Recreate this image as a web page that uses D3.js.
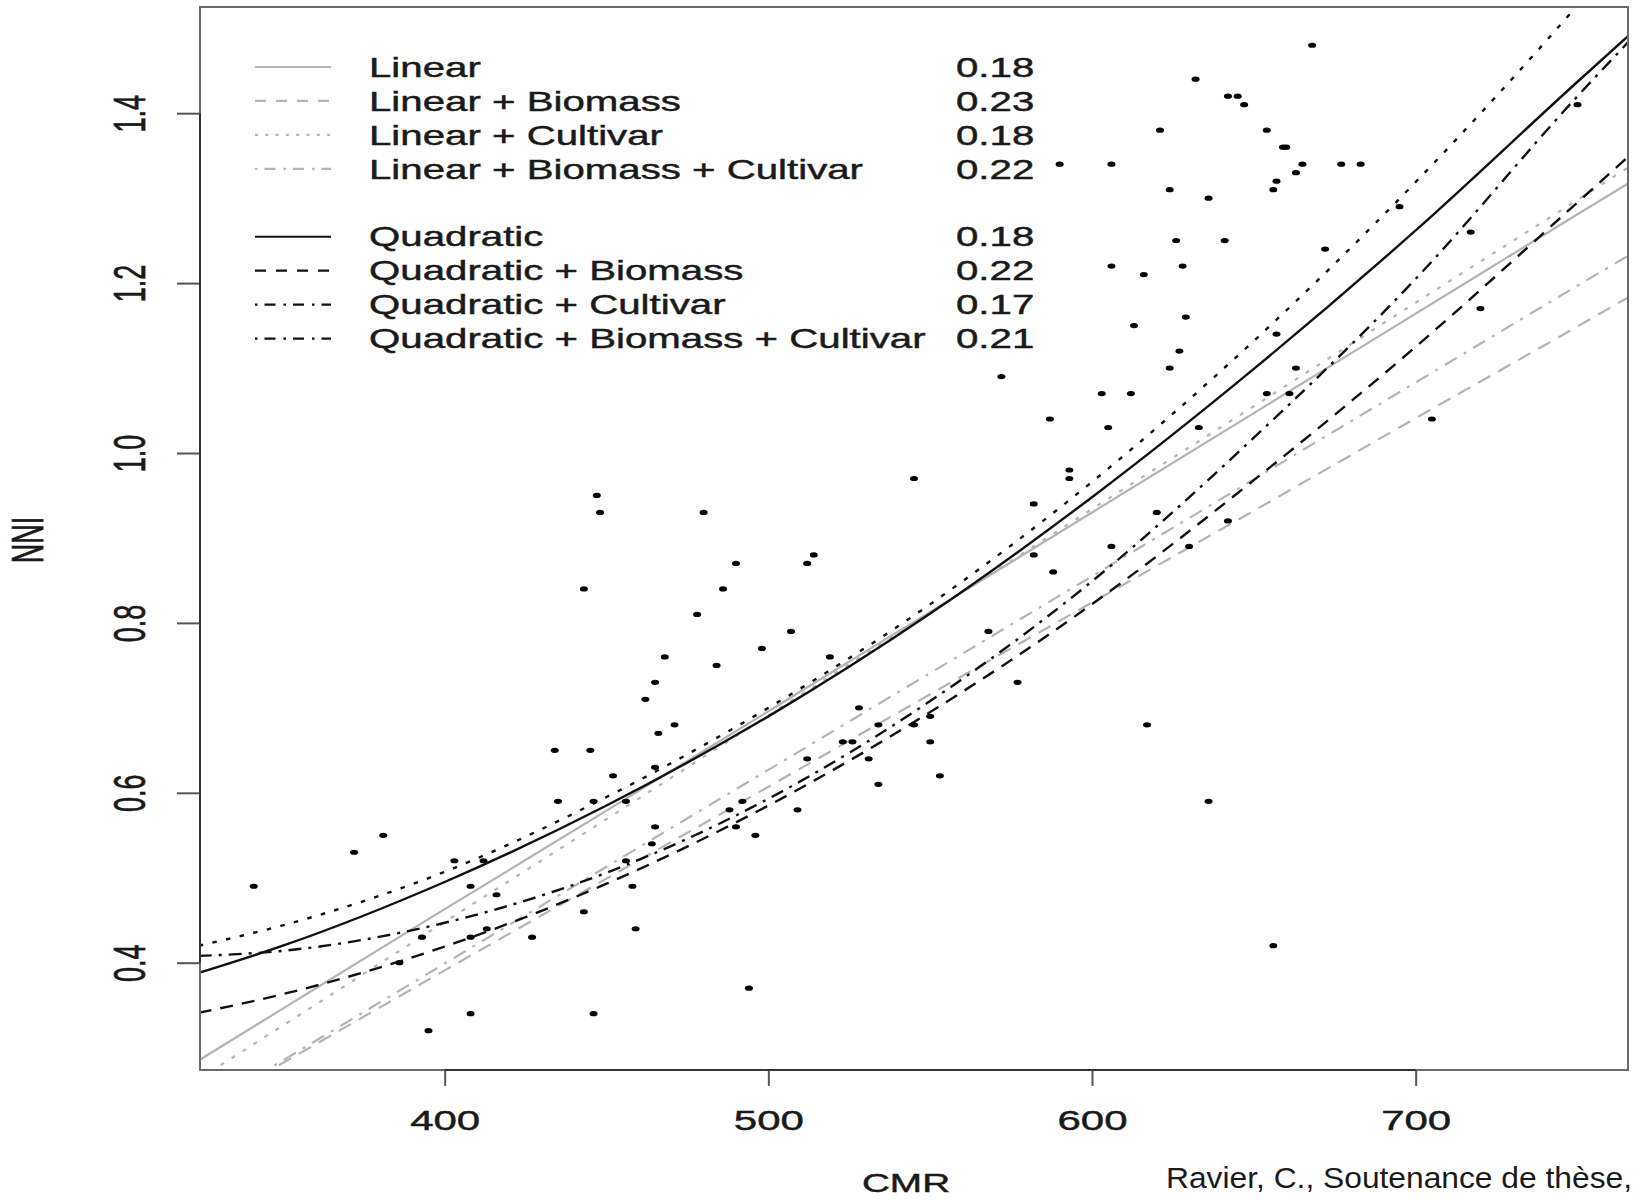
<!DOCTYPE html>
<html>
<head>
<meta charset="utf-8">
<script src="https://cdn.jsdelivr.net/npm/d3@7"></script>
<style>
  body { margin: 0; background: #ffffff; }
  text { font-family: "Liberation Sans", Arial, sans-serif; fill: #1a1a1a; }
</style>
</head>
<body>
<script>
// Observed points (CMR, NNI)
const OBS_CMR = [341, 372, 381, 386, 393, 395, 403, 408, 408, 408, 412, 413, 416, 427, 434, 435, 443, 443, 445, 446,
  446, 447, 448, 452, 456, 456, 458, 459, 462, 464, 465, 465, 465, 466, 468, 471, 478, 480, 484, 486,
  488, 490, 490, 492, 494, 496, 498, 507, 509, 512, 512, 514, 519, 523, 526, 528, 531, 534, 534, 545,
  545, 550, 550, 553, 568, 572, 577, 582, 582, 587, 588, 590, 593, 593, 603, 605, 606, 606, 606, 612,
  613, 616, 617, 620, 621, 624, 624, 626, 627, 628, 629, 630, 632, 633, 636, 636, 641, 642, 642, 645,
  647, 654, 654, 656, 656, 657, 657, 659, 660, 661, 663, 663, 665, 668, 672, 677, 683, 695, 705, 717,
  720, 750];
const OBS_NNI = [0.49, 0.53, 0.55, 0.40, 0.43, 0.32, 0.52, 0.49, 0.43, 0.34, 0.52, 0.44, 0.48, 0.43, 0.65, 0.59, 0.84, 0.46, 0.65, 0.59,
  0.34, 0.95, 0.93, 0.62, 0.59, 0.52, 0.49, 0.44, 0.71, 0.54, 0.73, 0.63, 0.56, 0.67, 0.76, 0.68, 0.81, 0.93, 0.75, 0.84,
  0.58, 0.87, 0.56, 0.59, 0.37, 0.55, 0.77, 0.79, 0.58, 0.87, 0.64, 0.88, 0.76, 0.66, 0.66, 0.70, 0.64, 0.68, 0.61, 0.97,
  0.68, 0.69, 0.66, 0.62, 0.79, 1.09, 0.73, 0.94, 0.88, 1.04, 0.86, 1.34, 0.98, 0.97, 1.07, 1.03, 1.34, 1.22, 0.89, 1.07,
  1.15, 1.21, 0.68, 0.93, 1.38, 1.31, 1.10, 1.25, 1.12, 1.22, 1.16, 0.89, 1.44, 1.03, 1.30, 0.59, 1.25, 1.42, 0.92, 1.42,
  1.41, 1.38, 1.07, 1.31, 0.42, 1.32, 1.14, 1.36, 1.36, 1.07, 1.33, 1.10, 1.34, 1.48, 1.24, 1.34, 1.34, 1.29, 1.04, 1.26,
  1.17, 1.41];

// Fitted curves, read at these CMR values
const CURVE_CMR = [324, 350, 400, 450, 500, 550, 600, 650, 700, 750, 766];
const FIT_LINEAR          = [0.285, 0.346, 0.463, 0.579, 0.696, 0.813, 0.930, 1.047, 1.164, 1.281, 1.318];
const FIT_LINEAR_BIO      = [0.226, 0.282, 0.391, 0.499, 0.607, 0.716, 0.824, 0.932, 1.041, 1.149, 1.184];
const FIT_LINEAR_CULT     = [0.263, 0.326, 0.448, 0.569, 0.691, 0.812, 0.934, 1.055, 1.177, 1.298, 1.337];
const FIT_LINEAR_BIO_CULT = [0.226, 0.285, 0.399, 0.513, 0.627, 0.741, 0.855, 0.969, 1.083, 1.197, 1.233];
const FIT_QUAD            = [0.388, 0.420, 0.495, 0.585, 0.690, 0.811, 0.948, 1.099, 1.262, 1.437, 1.492];
const FIT_QUAD_BIO        = [0.341, 0.363, 0.419, 0.493, 0.585, 0.695, 0.822, 0.968, 1.125, 1.295, 1.350];
const FIT_QUAD_CULT       = [0.420, 0.444, 0.507, 0.595, 0.700, 0.822, 0.966, 1.132, 1.319, 1.527, 1.598];
const FIT_QUAD_BIO_CULT   = [0.408, 0.414, 0.447, 0.506, 0.593, 0.708, 0.849, 1.018, 1.205, 1.420, 1.485];

// Legend
const MODEL_NAMES = ['Linear', 'Linear + Biomass', 'Linear + Cultivar', 'Linear + Biomass + Cultivar',
  'Quadratic', 'Quadratic + Biomass', 'Quadratic + Cultivar', 'Quadratic + Biomass + Cultivar'];
const MODEL_SCORES = ['0.18', '0.23', '0.18', '0.22', '0.18', '0.22', '0.17', '0.21'];

const X_TICKS = [400, 500, 600, 700];
const Y_TICKS = [0.4, 0.6, 0.8, 1.0, 1.2, 1.4];

const WIDTH = 1633;
const HEIGHT = 1200;
const PLOT_LEFT = 200;
const PLOT_RIGHT = 1628;
const PLOT_TOP = 7;
const PLOT_BOTTOM = 1070;

const COLOR_BLACK = '#111111';
const COLOR_GRAY = '#b4b4b4';
const TEXT_STRETCH = 1.49;
const TEXT_HALO = 0.45;

// line styles: [colour, dash in plot, dash in legend]
const STYLES = [
  [COLOR_GRAY, null, null],
  [COLOR_GRAY, '14,9', '11,10'],
  [COLOR_GRAY, '4,9', '3,7.3'],
  [COLOR_GRAY, '14,8,3,8', '2.5,7,11,8'],
  [COLOR_BLACK, null, null],
  [COLOR_BLACK, '13,9', '11,10'],
  [COLOR_BLACK, '4.5,9.5', '2.5,7,11,8'],
  [COLOR_BLACK, '13,7,3,7', '2.5,7,11,8']
];
const FITS = [FIT_LINEAR, FIT_LINEAR_BIO, FIT_LINEAR_CULT, FIT_LINEAR_BIO_CULT,
  FIT_QUAD, FIT_QUAD_BIO, FIT_QUAD_CULT, FIT_QUAD_BIO_CULT];

const x = d3.scaleLinear().domain([324.4, 765.6]).range([PLOT_LEFT, PLOT_RIGHT]);
const y = d3.scaleLinear().domain([0.2737, 1.525]).range([PLOT_BOTTOM, PLOT_TOP]);

const svg = d3.select('body').append('svg')
  .attr('width', WIDTH)
  .attr('height', HEIGHT)
  .attr('xmlns', 'http://www.w3.org/2000/svg');

svg.append('rect').attr('width', WIDTH).attr('height', HEIGHT).attr('fill', '#ffffff');

svg.append('clipPath').attr('id', 'plot-clip')
  .append('rect')
  .attr('x', PLOT_LEFT).attr('y', PLOT_TOP)
  .attr('width', PLOT_RIGHT - PLOT_LEFT).attr('height', PLOT_BOTTOM - PLOT_TOP);

// Curves
const line = d3.line()
  .x(d => x(d[0]))
  .y(d => y(d[1]))
  .curve(d3.curveMonotoneX);

const curves = svg.append('g').attr('clip-path', 'url(#plot-clip)');
FITS.forEach((fit, i) => {
  const pts = CURVE_CMR.map((c, j) => [c, fit[j]]);
  curves.append('path')
    .attr('d', line(pts))
    .attr('fill', 'none')
    .attr('stroke', STYLES[i][0])
    .attr('stroke-width', i < 4 ? 2.2 : 2.4)
    .attr('stroke-dasharray', STYLES[i][1]);
});

// Points
svg.append('g').selectAll('ellipse')
  .data(OBS_CMR.map((c, i) => [c, OBS_NNI[i]]))
  .join('ellipse')
  .attr('cx', d => x(d[0]))
  .attr('cy', d => y(d[1]))
  .attr('rx', 4)
  .attr('ry', 2.6)
  .attr('fill', '#000');

// Box
svg.append('rect')
  .attr('x', PLOT_LEFT).attr('y', PLOT_TOP)
  .attr('width', PLOT_RIGHT - PLOT_LEFT).attr('height', PLOT_BOTTOM - PLOT_TOP)
  .attr('fill', 'none')
  .attr('stroke', '#6a6a6a')
  .attr('stroke-width', 2);

// X axis
const xAxis = svg.append('g')
  .attr('transform', `translate(0,${PLOT_BOTTOM})`)
  .call(d3.axisBottom(x).tickValues(X_TICKS).tickSize(16).tickSizeOuter(0));
xAxis.select('.domain').remove();
xAxis.append('line')
  .attr('x1', x(X_TICKS[0])).attr('x2', x(X_TICKS[X_TICKS.length - 1]))
  .attr('stroke', '#333').attr('stroke-width', 2);
xAxis.selectAll('.tick line').attr('stroke', '#555').attr('stroke-width', 2);
xAxis.selectAll('.tick text')
  .attr('y', null).attr('dy', null)
  .attr('transform', `translate(0,60) scale(1.5,1)`)
  .attr('font-size', 28)
  .attr('font-family', '"Liberation Sans", Arial, sans-serif')
  .attr('fill', '#1a1a1a')
  .attr('stroke', '#1a1a1a')
  .attr('stroke-width', TEXT_HALO);

// Y axis
const yAxis = svg.append('g')
  .attr('transform', `translate(${PLOT_LEFT},0)`)
  .call(d3.axisLeft(y).tickValues(Y_TICKS).tickFormat(d3.format('.1f')).tickSize(23).tickSizeOuter(0));
yAxis.select('.domain').remove();
yAxis.append('line')
  .attr('y1', y(Y_TICKS[0])).attr('y2', y(Y_TICKS[Y_TICKS.length - 1]))
  .attr('stroke', '#333').attr('stroke-width', 2);
yAxis.selectAll('.tick line').attr('stroke', '#555').attr('stroke-width', 2);
yAxis.selectAll('.tick text')
  .attr('x', null).attr('dy', null)
  .attr('text-anchor', 'middle')
  .attr('transform', 'translate(-55,0) scale(1.62,1) rotate(-90)')
  .attr('font-size', 27)
  .attr('font-family', '"Liberation Sans", Arial, sans-serif')
  .attr('fill', '#1a1a1a')
  .attr('stroke', '#1a1a1a')
  .attr('stroke-width', TEXT_HALO);

// Axis titles
svg.append('text')
  .attr('transform', `translate(906,1192) scale(${TEXT_STRETCH},1)`)
  .attr('text-anchor', 'middle')
  .attr('font-size', 26)
  .attr('stroke', '#1a1a1a').attr('stroke-width', TEXT_HALO)
  .text('CMR');

svg.append('text')
  .attr('transform', 'translate(43,540) scale(1.62,1) rotate(-90)')
  .attr('text-anchor', 'middle')
  .attr('font-size', 27)
  .attr('stroke', '#1a1a1a').attr('stroke-width', TEXT_HALO)
  .text('NNI');

// Legend
const LEGEND_ROW = 33.95;
const legend = svg.append('g');
MODEL_NAMES.forEach((name, i) => {
  const row = i < 4 ? i : i + 1;
  const cy = 67 + row * LEGEND_ROW;
  legend.append('line')
    .attr('x1', 255).attr('x2', 331)
    .attr('y1', cy).attr('y2', cy)
    .attr('stroke', STYLES[i][0])
    .attr('stroke-width', 2.2)
    .attr('stroke-dasharray', STYLES[i][2]);
  legend.append('text')
    .attr('transform', `translate(369,${cy + 9.7}) scale(${TEXT_STRETCH},1)`)
    .attr('font-size', 27)
    .attr('stroke', '#1a1a1a').attr('stroke-width', TEXT_HALO)
    .text(name);
  legend.append('text')
    .attr('transform', `translate(956,${cy + 9.7}) scale(${TEXT_STRETCH},1)`)
    .attr('font-size', 27)
    .attr('stroke', '#1a1a1a').attr('stroke-width', TEXT_HALO)
    .text(MODEL_SCORES[i]);
});

// Citation
svg.append('text')
  .attr('x', 1166).attr('y', 1188)
  .attr('font-family', '"Liberation Sans Narrow", "Liberation Sans", Arial, sans-serif')
  .attr('font-size', 30)
  .attr('textLength', 466)
  .attr('lengthAdjust', 'spacingAndGlyphs')
  .attr('fill', '#000')
  .text('Ravier, C., Soutenance de thèse,');
</script>
</body>
</html>
